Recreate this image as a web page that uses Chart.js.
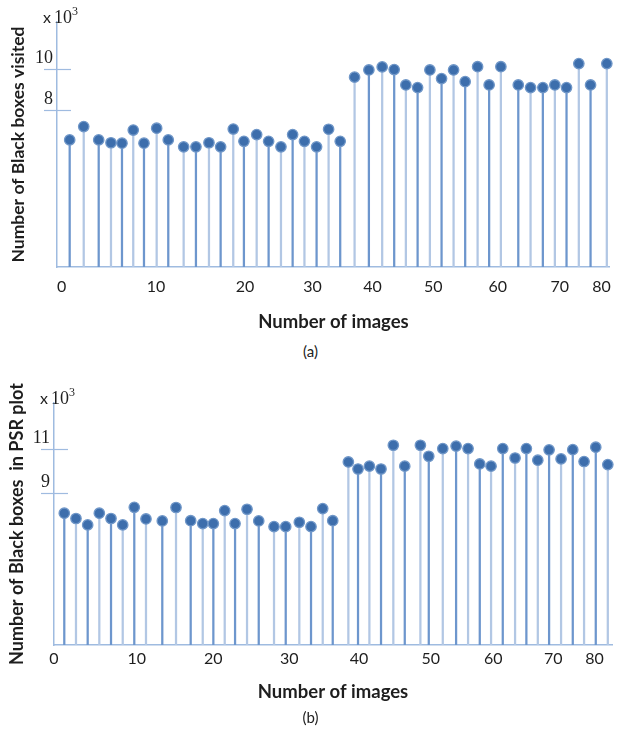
<!DOCTYPE html>
<html><head><meta charset="utf-8">
<script src="https://cdn.jsdelivr.net/npm/chart.js@4.4.1/dist/chart.umd.min.js"></script>
<style>
html,body{margin:0;padding:0;background:#fff;}
#wrap{position:relative;width:621px;height:729px;overflow:hidden;background:#fff;}
canvas{position:absolute;left:0;}
#ca{top:0;width:621px;height:335px;}
#cb{top:370px;width:621px;height:340px;}
.cap{position:absolute;left:0;width:621px;text-align:center;font:15px Lato, sans-serif;color:#222;line-height:18px;}
</style></head>
<body><div id="wrap">
<canvas id="ca" width="621" height="335"></canvas>
<canvas id="cb" width="621" height="340"></canvas>
<div class="cap" style="top:342px">(a)</div>
<div class="cap" style="top:708px">(b)</div>
</div>
<script>
// ---- Data (a): Number of Black boxes visited (x 10^3)
const imagesA = [1.88, 3.96, 6.18, 8.00, 9.63, 11.30, 12.89, 14.77, 16.49, 18.77, 20.59, 22.52, 24.25, 26.12, 27.70, 29.59, 31.36, 33.19, 34.92, 36.67, 38.47, 40.25, 41.97, 44.10, 46.22, 48.19, 49.97, 51.70, 53.44, 55.26, 56.99, 58.77, 60.49, 62.33, 64.04, 65.78, 68.36, 70.18, 72.00, 73.78, 75.51, 77.33, 79.07, 81.48];
const visitedA = [6.54, 7.19, 6.54, 6.40, 6.38, 7.02, 6.38, 7.11, 6.54, 6.20, 6.20, 6.40, 6.20, 7.07, 6.47, 6.80, 6.47, 6.20, 6.80, 6.47, 6.20, 7.06, 6.47, 9.60, 9.95, 10.10, 9.97, 9.22, 9.09, 9.95, 9.53, 9.95, 9.38, 10.11, 9.22, 10.11, 9.22, 9.09, 9.09, 9.22, 9.09, 10.26, 9.22, 10.26];
const xTickLabelsA = ["0", "10", "20", "30", "40", "50", "60", "70", "80"];
const xTickPosA = [0.70, 14.67, 27.85, 37.88, 46.77, 55.75, 65.33, 74.52, 80.70];
const yTicksA = [8, 10];

// ---- Data (b): Number of Black boxes in PSR plot (x 10^3)
const imagesB = [1.52, 3.25, 4.98, 6.70, 8.43, 10.16, 11.87, 13.60, 16.01, 18.04, 20.21, 21.99, 23.56, 25.24, 26.77, 28.54, 30.27, 32.53, 34.26, 36.27, 38.00, 39.73, 41.21, 43.52, 44.95, 46.63, 48.35, 50.17, 51.86, 54.17, 55.41, 57.48, 59.45, 61.22, 62.95, 64.62, 66.35, 68.17, 69.84, 71.53, 73.20, 74.97, 76.70, 78.37, 80.10, 81.88];
const psrB = [8.09, 7.85, 7.56, 8.09, 7.85, 7.56, 8.36, 7.83, 7.74, 8.35, 7.75, 7.62, 7.62, 8.21, 7.62, 8.27, 7.74, 7.48, 7.48, 7.68, 7.48, 8.30, 7.75, 10.42, 10.10, 10.23, 10.10, 11.18, 10.23, 11.18, 10.68, 11.03, 11.14, 11.03, 10.33, 10.23, 11.03, 10.60, 11.03, 10.50, 10.97, 10.56, 10.98, 10.44, 11.09, 10.30];
const xTickLabelsB = ["0", "10", "20", "30", "40", "50", "60", "70", "80"];
const xTickPosB = [0, 12.23, 23.56, 34.79, 45.10, 55.70, 64.96, 73.83, 79.90];
const yTicksB = [9, 11];

// ---- Styles
const AXIS = '#9fbbe0';
const STEM_DARK = '#6d96cd';
const STEM_LIGHT = '#b2c7e4';
const DOT = '#3d6eac';
const DOT_EDGE = '#7097c8';
const TEXT = '#1e1e1e';

const crossTicks = {
  id: 'crossTicks',
  afterDraw(chart) {
    const {ctx, chartArea} = chart;
    const y = chart.scales.y;
    const x0 = chartArea.left;
    ctx.save();
    ctx.strokeStyle = AXIS;
    ctx.lineWidth = 1.2;
    y.ticks.forEach(t => {
      const py = Math.round(y.getPixelForValue(t.value)) + 0.5;
      ctx.beginPath(); ctx.moveTo(x0 - 13, py); ctx.lineTo(x0 + 14, py); ctx.stroke();
    });
    ctx.fillStyle = TEXT;
    ctx.textBaseline = 'alphabetic';
    ctx.textAlign = 'left';
    const base = chartArea.top + 1;
    ctx.font = '16px Lato, sans-serif';
    ctx.fillText('x', x0 - 14, base);
    ctx.font = '18px "Liberation Serif", serif';
    ctx.fillText('10', x0 - 3, base);
    ctx.font = '12px "Liberation Serif", serif';
    ctx.fillText('3', x0 + 15, base - 8);
    ctx.restore();
  }
};

function makeChart(id, cfg) {
  const pts = cfg.xs.map((x, i) => ({x: x, y: cfg.ys[i]}));
  return new Chart(document.getElementById(id), {
    type: 'scatter',
    data: {
      datasets: [
        {type: 'bar', data: pts, backgroundColor: c => (c.dataIndex % 2 ? STEM_LIGHT : STEM_DARK),
         barThickness: 1.6, borderWidth: 0, order: 2},
        {type: 'scatter', data: pts, pointRadius: 5.2, pointHoverRadius: 5.2,
         backgroundColor: DOT, borderColor: DOT_EDGE, borderWidth: 1.3, order: 1, clip: false}
      ]
    },
    options: {
      responsive: false,
      animation: false,
      devicePixelRatio: 1,
      layout: {padding: {left: 0, top: cfg.padTop, right: cfg.padRight, bottom: 0}},
      plugins: {legend: {display: false}, tooltip: {enabled: false}},
      scales: {
        x: {
          type: 'linear', min: 0, max: cfg.xMax, offset: false,
          afterBuildTicks: s => { s.ticks = cfg.xTickPos.map(v => ({value: v})); },
          afterFit: s => { s.height = cfg.xHeight; },
          grid: {display: false, drawTicks: false},
          border: {display: true, color: AXIS, width: 1.5},
          ticks: {autoSkip: false, maxRotation: 0, padding: cfg.xPad, color: TEXT,
                  font: {family: 'Lato', size: 16},
                  callback: (v, i) => cfg.xTickLabels[i]},
          title: {display: true, text: 'Number of images', color: TEXT,
                  font: {family: 'Lato', size: 18.5, weight: 'bold'}, padding: {top: 0, bottom: cfg.xTitlePad}}
        },
        y: {
          type: 'linear', min: cfg.yMin, max: cfg.yMax,
          afterBuildTicks: s => { s.ticks = cfg.yTicks.map(v => ({value: v})); },
          afterFit: s => { s.width = cfg.yWidth; },
          grid: {display: false, drawTicks: false},
          border: {display: true, color: AXIS, width: 1.5},
          ticks: {padding: 4, labelOffset: -11, color: TEXT,
                  font: {family: 'Liberation Serif', size: 18},
                  callback: v => String(v)},
          title: {display: true, text: cfg.yTitle, color: TEXT,
                  font: {family: 'Lato', size: cfg.yTitleSize, weight: 'bold'}, padding: {top: cfg.yTitlePad, bottom: 0}}
        }
      }
    },
    plugins: [crossTicks]
  });
}

makeChart('ca', {
  xs: imagesA, ys: visitedA, xTickPos: xTickPosA, xTickLabels: xTickLabelsA, yTicks: yTicksA,
  xMax: 81.93, yMin: 0.34, yMax: 12.29, padTop: 22, padRight: 11, xHeight: 68, xPad: 10, xTitlePad: 2,
  yWidth: 57, yTitlePad: 8, yTitleSize: 17.5, yTitle: 'Number of Black boxes visited'
});
makeChart('cb', {
  xs: imagesB, ys: psrB, xTickPos: xTickPosB, xTickLabels: xTickLabelsB, yTicks: yTicksB,
  xMax: 82.5, yMin: 2.10, yMax: 13.10, padTop: 33, padRight: 9, xHeight: 65, xPad: 4, xTitlePad: 7,
  yWidth: 54, yTitlePad: 6, yTitleSize: 18, yTitle: 'Number of Black boxes  in PSR plot'
});
</script>
</body></html>
